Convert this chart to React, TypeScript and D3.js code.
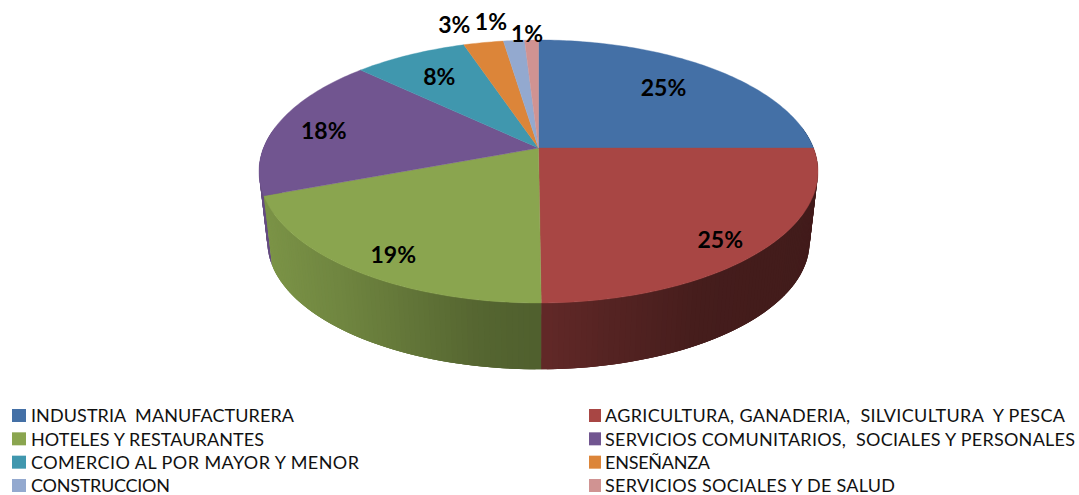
import React from "react";
import * as d3 from "d3";

const categories = [
  "INDUSTRIA  MANUFACTURERA",
  "AGRICULTURA, GANADERIA,  SILVICULTURA  Y PESCA",
  "HOTELES Y RESTAURANTES",
  "SERVICIOS COMUNITARIOS,  SOCIALES Y PERSONALES",
  "COMERCIO AL POR MAYOR Y MENOR",
  "ENSEÑANZA",
  "CONSTRUCCION",
  "SERVICIOS SOCIALES Y DE SALUD",
];
const shares = [25.0, 24.87, 19.41, 17.77, 7.8, 2.75, 1.45, 0.95];
const colors = ["#4470a6", "#a84644", "#8aa54f", "#715590", "#4097ae", "#dc8539", "#93a9cf", "#d09392"];

// Layout of the perspective pie: a projective map of the unit circle.
const CX = 538.5, CY = 148, R = 275, K = 0.1787, S = 127.3;
const LOWER = { cy: 219, scale: 0.97 };
const project = (a: number, r = 1, cy = CY, s = 1): [number, number] => {
  const x = Math.sin(a) * r;
  const y = -Math.cos(a) * r;
  const d = 1 - K * y;
  return [CX + (R * s * x) / d, cy + (S * s * y) / d];
};
const shade = d3.scaleLinear<number>()
  .domain([258, 350, 480, 540, 600, 700, 820])
  .range([0.9, 0.8, 0.62, 0.58, 0.51, 0.41, 0.39]);
// [radial factor, dx, dy] of each percentage label
const labelPlace: [number, number, number][] = [
  [0.7, 0, -2], [0.87, -9, 4], [0.85, 6, 5], [0.8, -5, 2],
  [0.72, -3, -2], [1.2, -20, 0], [1.2, -19, -1], [1.07, -4, 0],
];
const legendWidths = [263, 460, 233, 470, 328, 105, 139, 290];

const pie = d3.pie<number>().sort(null).startAngle(0).endAngle(2 * Math.PI);
const arcs = pie(shares);
const line = d3.line();
const STEP = Math.PI / 180;
const range = (a0: number, a1: number) => {
  const n = Math.max(1, Math.ceil((a1 - a0) / STEP));
  return d3.range(n + 1).map((i) => a0 + ((a1 - a0) * i) / n);
};

type Strip = { d: string; fill: string; depth: number };
const strips: Strip[] = [];
arcs.forEach((arc, i) => {
  const as = range(arc.startAngle, arc.endAngle);
  for (let j = 0; j < as.length - 1; j++) {
    const mid = (as[j] + as[j + 1]) / 2;
    const depth = -Math.cos(mid);
    if (depth < -0.15) continue;
    const a0 = as[Math.max(0, j - 1)];
    const a1 = as[Math.min(as.length - 1, j + 2)];
    const pts: [number, number][] = [
      project(a0),
      project(a1),
      project(a1, 1, LOWER.cy, LOWER.scale),
      project(a0, 1, LOWER.cy, LOWER.scale),
    ];
    const c = d3.rgb(colors[i]);
    const f = shade(project(mid)[0]);
    strips.push({
      d: line(pts) + "Z",
      fill: d3.rgb(c.r * f, c.g * f, c.b * f).formatHex(),
      depth,
    });
  }
});
strips.sort((a, b) => a.depth - b.depth);

const legendX = [12, 589];
const legendTextX = [32, 606];
const legendRow = d3.scalePoint<number>().domain([0, 1, 2, 3]).range([416, 486]);
const FONT = "Lato, Carlito, Calibri, sans-serif";

export default function App() {
  return (
    <svg width={1079} height={495} style={{ position: "absolute", left: 0, top: 0, background: "#fff" }}>
      {strips.map((s, i) => (
        <path key={i} d={s.d} fill={s.fill} />
      ))}
      {arcs.map((arc, i) => {
        const pts = range(arc.startAngle, arc.endAngle).map((a) => project(a));
        return <path key={i} d={line([[CX, CY], ...pts]) + "Z"} fill={colors[i]} stroke={colors[i]} strokeWidth={0.4} />;
      })}
      {arcs.map((arc, i) => {
        const [r, dx, dy] = labelPlace[i];
        const [x, y] = project((arc.startAngle + arc.endAngle) / 2, r);
        return (
          <text key={i} x={x + dx} y={y + dy} dy="0.36em" textAnchor="middle" fontFamily={FONT} fontWeight={700} fontSize={23} fill="#000">
            {d3.format(".0f")(shares[i])}%
          </text>
        );
      })}
      {categories.map((name, i) => {
        const col = i % 2;
        const y = legendRow(Math.floor(i / 2)) as number;
        return (
          <g key={name}>
            <rect x={legendX[col]} y={y - 7} width={col ? 12 : 14} height={13} fill={colors[i]} />
            <text x={legendTextX[col] - 1} y={y} dy="0.36em" textLength={legendWidths[i]} lengthAdjust="spacing" style={{ whiteSpace: "pre" }} fontFamily={FONT} fontSize={18} fill="#111">
              {name}
            </text>
          </g>
        );
      })}
    </svg>
  );
}
